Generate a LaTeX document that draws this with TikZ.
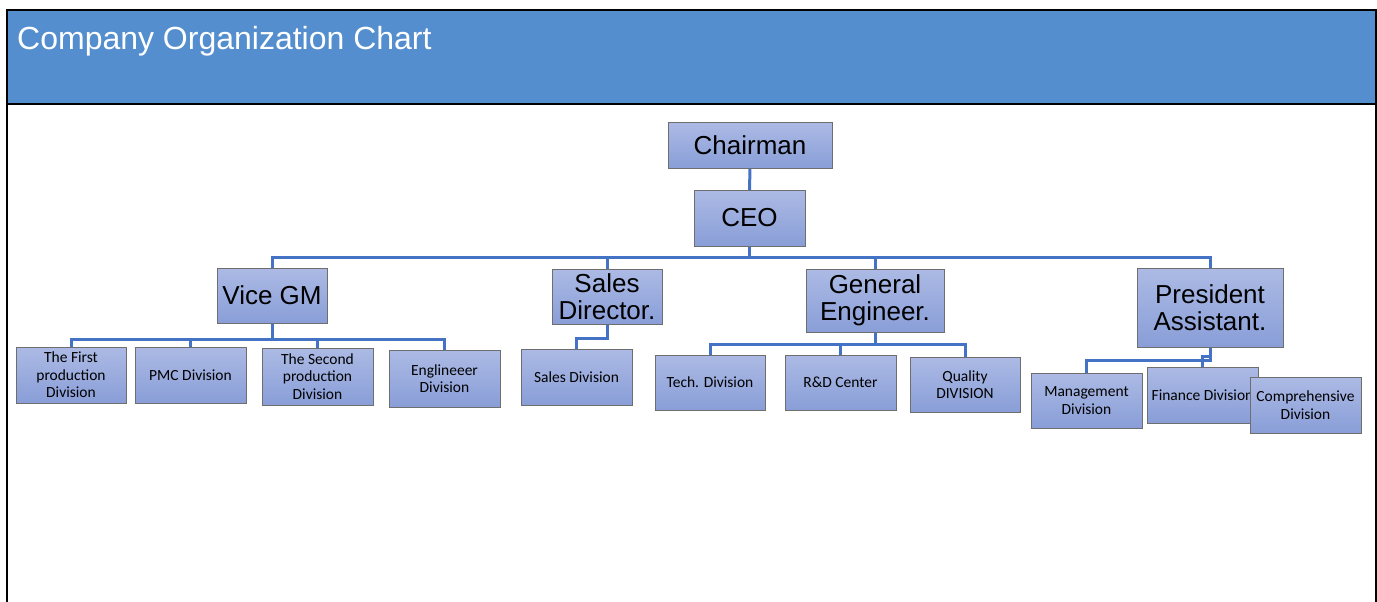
\documentclass[tikz,border=0pt]{standalone}
\usepackage{fontspec}
\usetikzlibrary{backgrounds}
\setmainfont{Liberation Sans}
\newfontfamily\smallfont{Carlito}
\definecolor{headblue}{RGB}{84,142,206}
\definecolor{connblue}{RGB}{68,114,196}
\definecolor{boxtop}{RGB}{172,186,228}
\definecolor{boxbot}{RGB}{137,158,216}
\definecolor{boxedge}{RGB}{110,110,110}
\begin{document}
\begin{tikzpicture}[x=1pt,y=-1pt,
  box/.style={draw=boxedge, line width=1pt, top color=boxtop, bottom color=boxbot,
    inner sep=0pt, align=center, text=black},
  bigbox/.style={box, font=\fontsize{26}{27}\selectfont},
  smallbox/.style={box, font=\smallfont\fontsize{15.5}{17.5}\selectfont},
  conn/.style={draw=connblue, line width=3pt, line cap=rect, line join=miter}]
\useasboundingbox (0,0) rectangle (1377,602);
% frame and header
\fill[headblue] (7,10.5) rectangle (1376,104);
\draw[black, line width=1.2pt] (7,104) -- (1376,104);
\draw[black, line width=2pt] (7,602) -- (7,10.5) -- (1376,10.5) -- (1376,602);
\node[anchor=base west, text=white, inner sep=0pt, font=\fontsize{32}{34}\selectfont] (title) at (17,49.5) {Company Organization Chart};

% level 0/1
\node[bigbox, minimum width=164pt, minimum height=46pt] (chair) at (750,145) {Chairman};
\node[bigbox, minimum width=111pt, minimum height=56pt] (ceo) at (749.5,218) {CEO};
% level 2
\node[bigbox, minimum width=110pt, minimum height=55pt] (vgm) at (272,295.5) {Vice GM};
\node[bigbox, minimum width=110pt, minimum height=55pt] (sd) at (607,296.5) {Sales\\Director.};
\node[bigbox, minimum width=138pt, minimum height=63pt] (ge) at (875,300.5) {General\\Engineer.};
\node[bigbox, minimum width=146pt, minimum height=79pt] (pa) at (1210,307.5) {President\\Assistant.};
% level 3
\node[smallbox, minimum width=110pt, minimum height=56pt] (c1) at (71,375) {The First\\production\\Division};
\node[smallbox, minimum width=111pt, minimum height=56pt] (c2) at (190.5,375) {PMC Division};
\node[smallbox, minimum width=111pt, minimum height=57pt] (c3) at (317.5,376.5) {The Second\\production\\Division};
\node[smallbox, minimum width=111pt, minimum height=57pt] (c4) at (444.5,378.5) {Englineeer\\Division};
\node[smallbox, minimum width=111pt, minimum height=56pt] (sdiv) at (576.5,377) {Sales Division};
\node[smallbox, minimum width=110pt, minimum height=55pt] (tech) at (710,382.5) {Tech. Division};
\node[smallbox, minimum width=111pt, minimum height=55pt] (rd) at (840.5,382.5) {R\&D Center};
\node[smallbox, minimum width=110pt, minimum height=55pt] (qual) at (965,384.5) {Quality\\DIVISION};
\node[smallbox, minimum width=111pt, minimum height=55pt] (mgmt) at (1086.5,400.5) {Management\\Division};
\node[smallbox, minimum width=111pt, minimum height=56pt] (fin) at (1202.5,395) {Finance Division};
\node[smallbox, minimum width=111pt, minimum height=56pt] (comp) at (1305.5,405) {Comprehensive\\Division};

% bus coordinates
\coordinate (b1) at (0,257);
\coordinate (b2) at (0,339);
\coordinate (b3) at (0,338);
\coordinate (b4) at (0,344);
\coordinate (b5) at (0,360);
\coordinate (b6) at (0,356);

% connectors, behind the boxes
\begin{scope}[on background layer]
\fill[white] (0,0) rectangle (1377,602);
\draw[conn] (chair.south) -- (ceo.north);
\draw[conn] (ceo.south) -- (ceo.south |- b1);
\draw[conn] (vgm.north) -- (vgm.north |- b1) -- (pa.north |- b1) -- (pa.north);
\draw[conn] (sd.north) -- (sd.north |- b1);
\draw[conn] (ge.north) -- (ge.north |- b1);

\draw[conn] (vgm.south) -- (vgm.south |- b2);
\draw[conn] (c1.north) -- (c1.north |- b2) -- (c4.north |- b2) -- (c4.north);
\draw[conn] (c2.north) -- (c2.north |- b2);
\draw[conn] (c3.north) -- (c3.north |- b2);

\draw[conn] (sd.south) -- (sd.south |- b3) -| (sdiv.north);

\draw[conn] (ge.south) -- (ge.south |- b4);
\draw[conn] (tech.north) -- (tech.north |- b4) -- (qual.north |- b4) -- (qual.north);
\draw[conn] (rd.north) -- (rd.north |- b4);

\draw[conn] (pa.south) -- (pa.south |- b5) -| (mgmt.north);
\draw[conn] (pa.south |- b6) -| (fin.north);
\end{scope}
\end{tikzpicture}
\end{document}
